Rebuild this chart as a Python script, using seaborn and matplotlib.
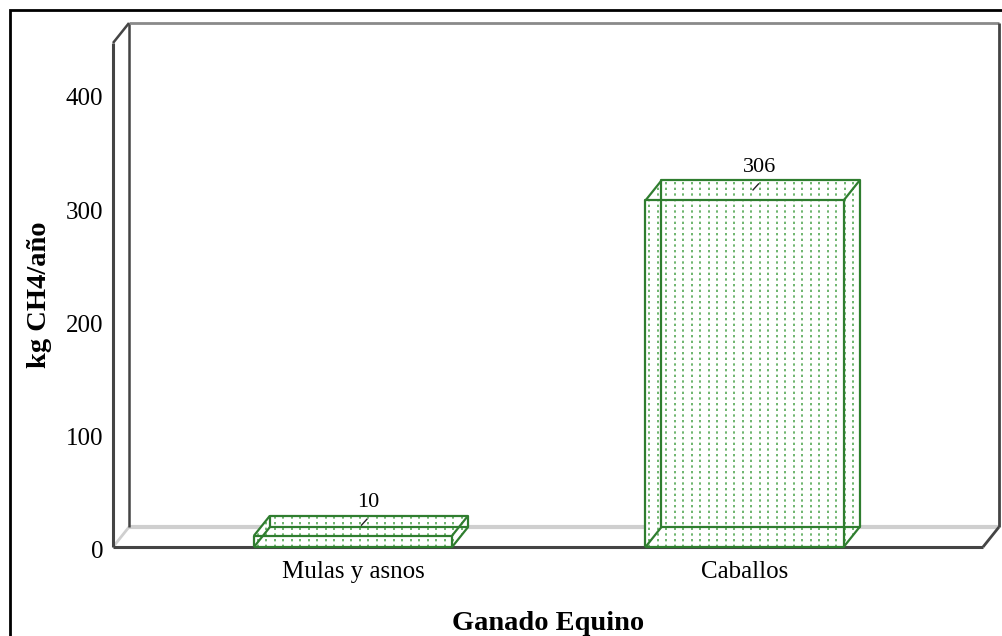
import numpy as np
import pandas as pd
import seaborn as sns
import matplotlib
matplotlib.use("Agg")
import matplotlib.pyplot as plt
from matplotlib.patches import Polygon, Rectangle
from matplotlib.collections import LineCollection
from matplotlib.transforms import ScaledTranslation

# datos
categorias = ['Mulas y asnos', 'Caballos']
valores = [10, 306]
etiquetas = ['10', '306']

df = pd.DataFrame({'ganado': categorias, 'kg': valores})

sns.set_style('white')
plt.rcParams['font.family'] = ['Liberation Serif', 'DejaVu Serif']

verde = '#2f7d2f'
verde_claro = '#55a855'
gris_osc = '#444444'
gris = '#8a8a8a'
gris_cl = '#cfcfcf'

W, H = 1003, 636
fig = plt.figure(figsize=(W / 100, H / 100), dpi=100)
ax = fig.add_axes([113 / W, 89 / H, 870 / W, 504 / H])

sns.barplot(data=df, x='ganado', y='kg', color='white', width=0.506,
            edgecolor='none', linewidth=0, ax=ax, zorder=3)

x0, x1 = -0.613, 1.609
y0, y1 = 0, 445
ax.set_xlim(x0, x1)
ax.set_ylim(y0, y1)
ax.set_yticks([0, 100, 200, 300, 400])

# profundidad del efecto 3D (px -> datos)
px_x = 870 / (x1 - x0)
px_y = 504 / (y1 - y0)
ddx = 16 / px_x
ddy = 20 / px_y

for s in ax.spines.values():
    s.set_visible(False)

def linea(xs, ys, c, lw, z=1):
    ax.plot(xs, ys, color=c, lw=lw, clip_on=False, zorder=z, solid_capstyle='butt')

# caja de ejes
linea([x0 + ddx, x1 + ddx], [ddy, ddy], gris_cl, 3)
linea([x0, x0 + ddx], [0, ddy], gris_cl, 2)
linea([x0 + ddx, x0 + ddx], [ddy, y1 + ddy], gris_osc, 1.8)
linea([x0 + ddx, x1 + ddx], [y1 + ddy, y1 + ddy], gris, 2)
linea([x1 + ddx, x1 + ddx], [ddy, y1 + ddy], gris_osc, 2)
linea([x0, x0 + ddx], [y1, y1 + ddy], gris_osc, 1.8)
linea([x1, x1 + ddx], [0, ddy], gris_osc, 2)
linea([x0, x0], [0, y1], gris_osc, 2.2, z=2)
linea([x0, x1], [0, 0], gris_osc, 2.2, z=2)

# barras en 3D a partir de los rectangulos de seaborn
for p, txt in zip(ax.patches[:len(valores)], etiquetas):
    x, w, h = p.get_x(), p.get_width(), p.get_height()
    silueta = Polygon([(x, 0), (x + w, 0), (x + w + ddx, ddy), (x + w + ddx, h + ddy),
                       (x + ddx, h + ddy), (x, h)],
                      facecolor='white', edgecolor='none', clip_on=False, zorder=3)
    ax.add_patch(silueta)
    # trama de puntos en columnas verticales
    xs = np.arange(x + 4 / px_x, x + w + ddx, 8.5 / px_x)
    segs = [[(v, 0), (v, h + ddy)] for v in xs]
    trama = LineCollection(segs, colors=verde_claro, linewidths=1.2,
                           linestyles=[(0, (1.4, 2.0))], zorder=3.5)
    ax.add_collection(trama)
    trama.set_clip_path(silueta)
    # aristas
    fx = [x, x + w, x + w, x, x]
    fy = [0, 0, h, h, 0]
    linea(fx, fy, verde, 1.6, z=5)
    linea([v + ddx for v in fx], [v + ddy for v in fy], verde, 1.6, z=4)
    for (a, b) in [(x, 0), (x + w, 0), (x + w, h), (x, h)]:
        linea([a, a + ddx], [b, b + ddy], verde, 1.6, z=5)
    cx = x + w / 2
    linea([cx + ddx * 0.5, cx + ddx * 0.9], [h + ddy * 0.5, h + ddy * 0.85], '#222222', 1.0, z=6)
    ax.text(cx + 15 / px_x, h + ddy + 11.5, txt, ha='center', va='center',
            fontsize=16, color='black', zorder=6)

ax.tick_params(axis='both', length=0, labelsize=18, labelcolor='black')
ax.tick_params(axis='x', pad=10)
ax.tick_params(axis='y', pad=7)
desp = ScaledTranslation(0, -3 / 100, fig.dpi_scale_trans)
for lab in ax.get_yticklabels():
    lab.set_transform(lab.get_transform() + desp)
ax.set_xlabel('Ganado Equino', fontsize=20.5, fontweight='bold', labelpad=20, color='black')
ax.set_ylabel('kg CH4/año', fontsize=20.5, fontweight='bold', labelpad=10, color='black')

# marco exterior
fig.patches.append(Rectangle((10 / W, -0.1), 1.2, 626 / H + 0.1, transform=fig.transFigure,
                             fill=False, edgecolor='black', lw=2))

fig.savefig('out.png', dpi=100)
